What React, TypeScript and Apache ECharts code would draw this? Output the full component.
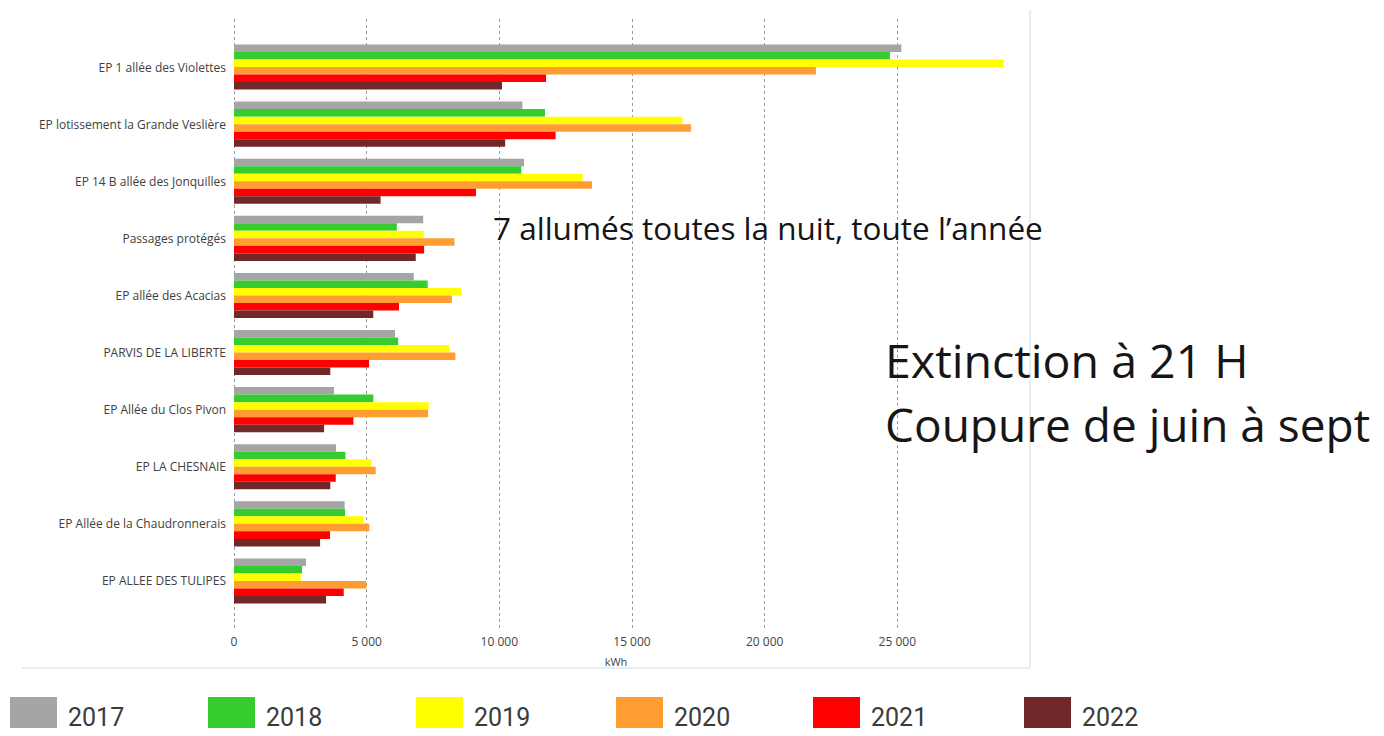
import React, { useEffect, useRef } from "react";
import * as echarts from "echarts";

const categories = [
  "EP 1 allée des Violettes",
  "EP lotissement la Grande Veslière",
  "EP 14 B allée des Jonquilles",
  "Passages protégés",
  "EP allée des Acacias",
  "PARVIS DE LA LIBERTE",
  "EP Allée du Clos Pivon",
  "EP LA CHESNAIE",
  "EP Allée de la Chaudronnerais",
  "EP ALLEE DES TULIPES",
];

const years = ["2017", "2018", "2019", "2020", "2021", "2022"];
const colors = ["#a5a5a5", "#36cc2f", "#ffff00", "#ff9d33", "#ff0000", "#722828"];

const v2017 = [25150, 10870, 10930, 7130, 6775, 6070, 3770, 3845, 4170, 2715];
const v2018 = [24720, 11720, 10830, 6135, 7300, 6185, 5250, 4200, 4185, 2565];
const v2019 = [29000, 16900, 13140, 7150, 8560, 8120, 7340, 5180, 4880, 2515];
const v2020 = [21930, 17220, 13490, 8310, 8210, 8345, 7315, 5340, 5100, 4990];
const v2021 = [11760, 12120, 9120, 7165, 6220, 5090, 4500, 3835, 3620, 4135];
const v2022 = [10100, 10220, 5525, 6850, 5250, 3630, 3395, 3630, 3245, 3470];

const seriesValues = [v2017, v2018, v2019, v2020, v2021, v2022];
const xTicks = [0, 5000, 10000, 15000, 20000, 25000, 30000];

const legendLeft = [10, 208, 416, 616, 813, 1024];

export default function App() {
  const ref = useRef<HTMLDivElement>(null);
  useEffect(() => {
    if (!ref.current) return;
    const chart = echarts.init(ref.current, undefined, { renderer: "svg" });
    const fmt = (v: number) =>
      v === 30000 ? "" : v === 0 ? "0" : `${Math.floor(v / 1000)} ${String(v % 1000).padStart(3, "0")}`;
    chart.setOption({
      animation: false,
      backgroundColor: "#ffffff",
      grid: [
        { left: 234, right: 354, top: 38.5, bottom: 126.5, containLabel: false },
        { left: 234, right: 354, top: 19, bottom: 108, containLabel: false },
      ],
      xAxis: [
        {
          type: "value",
          gridIndex: 0,
          min: xTicks[0],
          max: xTicks[xTicks.length - 1],
          interval: 5000,
          show: false,
        },
        {
          type: "value",
          gridIndex: 1,
          min: xTicks[0],
          max: xTicks[xTicks.length - 1],
          interval: 5000,
          axisLine: { show: false },
          axisTick: { show: false },
          splitLine: {
            show: true,
            showMaxLine: false,
            lineStyle: { type: [3, 3], color: "#9a9a9a", width: 1 },
          },
          axisLabel: {
            formatter: fmt,
            showMaxLabel: false,
            fontFamily: "Open Sans",
            fontSize: 12,
            color: "#444",
            margin: 7,
          },
          name: "kWh",
          nameLocation: "middle",
          nameGap: 28,
          nameTextStyle: { fontFamily: "Open Sans", fontSize: 11, color: "#444", padding: [0, 32, 0, 0] },
        },
      ],
      yAxis: [
        {
          type: "category",
          gridIndex: 0,
          data: categories,
          inverse: true,
          axisLine: { show: false },
          axisTick: { show: false },
          axisLabel: { fontFamily: "Open Sans", fontSize: 12, color: "#404040", margin: 8 },
        },
        { type: "category", gridIndex: 1, show: false, data: [""] },
      ],
      legend: years.map((y, i) => ({
        data: [y],
        left: legendLeft[i],
        top: 697,
        padding: 0,
        icon: "rect",
        itemWidth: 47,
        itemHeight: 40,
        selectedMode: false,
        textStyle: {
          fontFamily: "Roboto",
          fontSize: 25,
          color: "#3b3b3b",
          padding: [0, 0, 0, 6],
        },
      })),
      series: years.map((y, i) => ({
        name: y,
        type: "bar",
        xAxisIndex: 0,
        yAxisIndex: 0,
        data: seriesValues[i],
        itemStyle: { color: colors[i] },
        barGap: "0%",
        barCategoryGap: "21%",
      })),
      graphic: [
        {
          type: "line",
          z: 100,
          shape: { x1: 22, y1: 668, x2: 1030, y2: 668 },
          style: { stroke: "#e6eef5", lineWidth: 2 },
        },
        {
          type: "line",
          z: 100,
          shape: { x1: 1030, y1: 10, x2: 1030, y2: 668 },
          style: { stroke: "#e6eef5", lineWidth: 2 },
        },
        {
          type: "text",
          z: 110,
          left: 493,
          top: 211,
          style: { text: "7 allumés toutes la nuit, toute l’année", font: "31.5px 'Open Sans'", fill: "#161616" },
        },
        {
          type: "text",
          z: 110,
          left: 885,
          top: 336.5,
          style: { text: "Extinction à 21 H", font: "46.5px 'Open Sans'", fill: "#161616" },
        },
        {
          type: "text",
          z: 110,
          left: 885,
          top: 401,
          style: { text: "Coupure de juin à sept", font: "46px 'Open Sans'", fill: "#161616" },
        },
      ],
    });
    return () => chart.dispose();
  }, []);
  return <div ref={ref} style={{ width: 1384, height: 736, margin: -8 }} />;
}
